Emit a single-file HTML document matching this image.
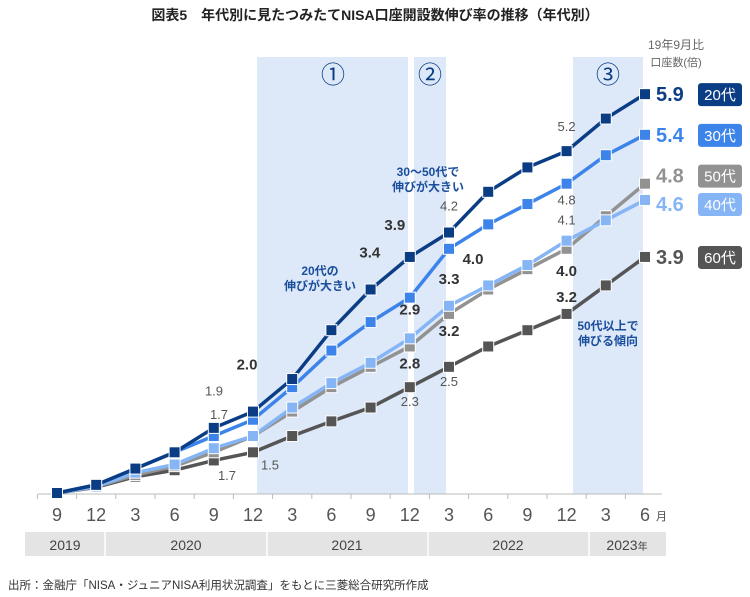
<!DOCTYPE html>
<html><head><meta charset="utf-8"><style>
body{margin:0;background:#fff;}
svg{display:block;font-family:"Liberation Sans","Noto Sans CJK JP",sans-serif;}
</style></head><body>
<svg id="c" width="750" height="597" viewBox="0 0 750 597">
<text x="375" y="20" text-anchor="middle" font-size="14" font-weight="bold" fill="#222">図表5　年代別に見たつみたてNISA口座開設数伸び率の推移（年代別）</text>
<rect x="257" y="57" width="151" height="437" fill="#dde8f9"/>
<rect x="414" y="57" width="32" height="437" fill="#dde8f9"/>
<rect x="573" y="57" width="70" height="437" fill="#dde8f9"/>
<text x="333" y="83" text-anchor="middle" font-size="24" fill="#0a3d84">①</text>
<text x="430" y="83" text-anchor="middle" font-size="24" fill="#0a3d84">②</text>
<text x="608" y="83" text-anchor="middle" font-size="24" fill="#0a3d84">③</text>
<text x="676" y="49" text-anchor="middle" font-size="12" fill="#666">19年9月比</text>
<text x="676" y="66" text-anchor="middle" font-size="11" fill="#666">口座数(倍)</text>
<line x1="38" y1="494" x2="662" y2="494" stroke="#bbb"/>
<g id="ticks"></g>
<g id="lines"></g>
<g id="ann" font-size="13"></g>
<rect x="25" y="532" width="641" height="24" fill="#e4e4e4"/>
<g stroke="#fff" stroke-width="1.5"><line x1="105" y1="532" x2="105" y2="556"/><line x1="267" y1="532" x2="267" y2="556"/><line x1="428" y1="532" x2="428" y2="556"/><line x1="589" y1="532" x2="589" y2="556"/></g>
<g font-size="14" fill="#444" text-anchor="middle">
<text x="65" y="550">2019</text>
<text x="186" y="550">2020</text>
<text x="347" y="550">2021</text>
<text x="508" y="550">2022</text>
<text x="627" y="550">2023<tspan font-size="10">年</tspan></text>
</g>
<text x="8" y="589" font-size="11.5" fill="#333">出所：金融庁「NISA・ジュニアNISA利用状況調査」をもとに三菱総合研究所作成</text>
<g font-size="12" font-weight="bold" fill="#1b4f9c" text-anchor="middle">
<text x="320" y="275">20代の</text><text x="320" y="290">伸びが大きい</text>
<text x="428" y="176">30～50代で</text><text x="428" y="191">伸びが大きい</text>
<text x="608" y="330">50代以上で</text><text x="608" y="345">伸びる傾向</text>
</g>
</svg>
<script>
const months=["9","12","3","6","9","12","3","6","9","12","3","6","9","12","3","6"];
const s20=[1.0,1.1,1.3,1.5,1.8,2.0,2.4,3.0,3.5,3.9,4.2,4.7,5.0,5.2,5.6,5.9];
const s30=[1.0,1.1,1.3,1.5,1.7,1.9,2.3,2.75,3.1,3.4,4.0,4.3,4.55,4.8,5.15,5.4];
const s40=[1.0,1.08,1.25,1.35,1.55,1.7,2.05,2.35,2.6,2.9,3.3,3.55,3.8,4.1,4.35,4.6];
const s50=[1.0,1.08,1.22,1.33,1.5,1.7,2.0,2.3,2.55,2.8,3.2,3.5,3.75,4.0,4.4,4.8];
const s60=[1.0,1.07,1.2,1.28,1.4,1.5,1.7,1.88,2.05,2.3,2.55,2.8,3.0,3.2,3.55,3.9];
const seriesNames=["20代","30代","40代","50代","60代"];
const NS="http://www.w3.org/2000/svg";
const X=i=>57+39.2*i;
const Y=v=>493-(v-1)*81.4;
function mk(t,a,p){const e=document.createElementNS(NS,t);for(const k in a)e.setAttribute(k,a[k]);p.appendChild(e);return e;}
const tk=document.getElementById('ticks');
months.forEach((m,i)=>{
  const t=mk('text',{x:X(i),y:521,'text-anchor':'middle','font-size':18,fill:'#555'},tk);
  t.textContent=m;
  
  
  mk('line',{x1:X(i)-19.6,y1:494,x2:X(i)-19.6,y2:499,stroke:'#bbb'},tk);
});
const mo=mk('text',{x:X(15)+11,y:520,'font-size':11,fill:'#444'},tk);mo.textContent='月';
const lg=document.getElementById('lines');
const defs=[[s60,'#555555'],[s50,'#929292'],[s40,'#86b5f5'],[s30,'#3d84ea'],[s20,'#0b3d85']];
const names=["60s","50s","40s","30s","20s"];
defs.forEach(([d,c],k)=>{
  const pl=mk('polyline',{points:d.map((v,i)=>X(i)+','+Y(v)).join(' '),fill:'none',stroke:c,'stroke-width':3.5},lg);
  
  
  d.forEach((v,i)=>{
    const r=mk('rect',{x:X(i)-5.5,y:Y(v)-5.5,width:11,height:11,fill:c,stroke:'#fff','stroke-width':1},lg);
    
    
  });
});
const ends=[[s20,'#0b3d85','20代',0],[s30,'#3d84ea','30代',0],[s50,'#929292','50代',-8],[s40,'#86b5f5','40代',4],[s60,'#555555','60代',0]];
const an=document.getElementById('ann');
ends.forEach(([d,c,n,off],k)=>{
  const y=Y(d[15])+7+off;
  const t=mk('text',{x:656,y:y,'font-size':20,'font-weight':'bold',fill:c},an);t.textContent=d[15].toFixed(1);
  
  
  const b=mk('rect',{x:698,y:y-18,width:44,height:23,rx:3,fill:c},an);
  
  
  const bt=mk('text',{x:720,y:y-1,'text-anchor':'middle','font-size':15,fill:'#fff'},an);bt.textContent=n;
});
const labs=[[s20,5,-6,-42,1],[s30,5,-39,-24,0],[s40,5,-34,-17,0],[s50,5,-26,+44,0],[s60,5,+17,+17,0],
[s20,9,-15,-27,1],[s30,9,-40,-40,1],[s40,9,0,-24,1],[s50,9,0,+22,1],[s60,9,0,+19,0],
[s20,10,0,-22,0],[s30,10,24,+15,1],[s40,10,0,-22,1],[s50,10,0,+22,1],[s60,10,0,+19,0],
[s20,13,0,-20,0],[s30,13,0,+21,0],[s40,13,0,-16,0],[s50,13,0,+27,1],[s60,13,0,-12,1]];
labs.forEach(([d,i,dx,dy,b])=>{
  const t=mk('text',{x:X(i)+dx,y:Y(d[i])+dy,'text-anchor':'middle','font-size':b?15:13,'font-weight':b?'bold':'normal',fill:b?'#333':'#555'},an);
  t.textContent=d[i].toFixed(1);
  
  
});
</script>
</body></html>
